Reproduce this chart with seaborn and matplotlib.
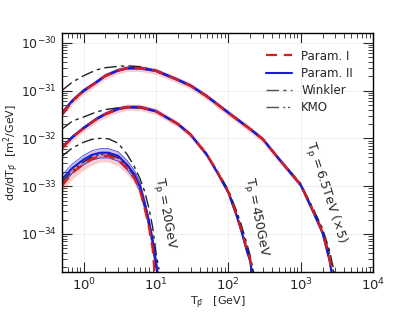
"""
Antiproton production cross section dsigma/dT vs antiproton kinetic energy,
for three proton beam energies, comparing two parametrisations with Winkler and KMO.
"""

import matplotlib
matplotlib.use('Agg')
import matplotlib.pyplot as plt
from matplotlib.lines import Line2D
from matplotlib.ticker import LogLocator, NullFormatter, LogFormatterSciNotation
import numpy as np
import seaborn as sns

# --- data (m^2/GeV) ---

# Tp = 6.5 TeV (x5)
x_65 = [0.5, 0.7, 1, 1.5, 2, 3, 4, 6, 10, 20, 30, 50, 100, 200, 300, 500, 1000, 1500, 2000, 2500, 2800]
p1_65 = [3.24e-32, 6.0e-32, 9.8e-32, 1.48e-31, 2.04e-31, 2.63e-31, 2.95e-31, 2.95e-31, 2.57e-31, 1.66e-31,
         1.26e-31, 7.6e-32, 3.4e-32, 1.55e-32, 9.5e-33, 3.7e-33, 1.07e-33, 2.9e-34, 1.1e-34, 3.0e-35, 1.1e-35]
p2_65 = [3.4e-32, 6.2e-32, 1.0e-31, 1.5e-31, 2.05e-31, 2.65e-31, 2.95e-31, 2.95e-31, 2.6e-31, 1.68e-31,
         1.27e-31, 7.7e-32, 3.45e-32, 1.57e-32, 9.6e-33, 3.7e-33, 1.05e-33, 2.8e-34, 1.05e-34, 2.8e-35, 1.0e-35]
xw_65 = [0.5, 0.7, 1, 1.5, 2, 3, 4, 6, 10, 20, 30, 50, 100, 200, 300, 500, 1000, 1500, 2000, 2500, 3000]
wink_65 = [1.0e-31, 1.5e-31, 2.04e-31, 2.7e-31, 3.0e-31, 3.2e-31, 3.3e-31, 3.15e-31, 2.6e-31, 1.66e-31,
           1.26e-31, 7.6e-32, 3.4e-32, 1.55e-32, 9.5e-33, 3.8e-33, 1.12e-33, 3.3e-34, 1.3e-34, 4.5e-35, 1.26e-35]
kmo_65 = [3.0e-32, 5.8e-32, 9.6e-32, 1.46e-31, 2.0e-31, 2.6e-31, 2.9e-31, 2.9e-31, 2.55e-31, 1.65e-31,
          1.25e-31, 7.5e-32, 3.4e-32, 1.55e-32, 9.5e-33, 3.75e-33, 1.1e-33, 3.1e-34, 1.2e-34, 3.8e-35, 1.1e-35]

# Tp = 450 GeV
x_450 = [0.5, 0.7, 1, 1.5, 2, 3, 4, 6, 10, 20, 30, 50, 70, 100, 130, 150, 180, 200, 215]
p1_450 = [6.2e-33, 1.05e-32, 1.62e-32, 2.5e-32, 3.2e-32, 4.1e-32, 4.5e-32, 4.5e-32, 3.7e-32, 2.0e-32,
          1.2e-32, 4.7e-33, 2.0e-33, 7.6e-34, 2.5e-34, 1.26e-34, 4.8e-35, 3.0e-35, 1.5e-35]
p2_450 = [6.4e-33, 1.07e-32, 1.65e-32, 2.55e-32, 3.25e-32, 4.15e-32, 4.5e-32, 4.5e-32, 3.7e-32, 2.0e-32,
          1.2e-32, 4.6e-33, 1.95e-33, 7.3e-34, 2.4e-34, 1.2e-34, 4.4e-35, 2.7e-35, 1.3e-35]
xw_450 = [0.5, 0.7, 1, 1.5, 2, 3, 4, 6, 10, 20, 30, 50, 70, 100, 130, 150, 180, 200, 230]
wink_450 = [1.55e-32, 2.3e-32, 2.8e-32, 3.55e-32, 4.0e-32, 4.35e-32, 4.5e-32, 4.35e-32, 3.7e-32, 2.0e-32,
            1.2e-32, 4.7e-33, 2.1e-33, 8.3e-34, 3.0e-34, 1.6e-34, 6.3e-35, 3.5e-35, 1.26e-35]
kmo_450 = [6.0e-33, 1.03e-32, 1.6e-32, 2.48e-32, 3.15e-32, 4.05e-32, 4.45e-32, 4.45e-32, 3.7e-32, 2.0e-32,
           1.2e-32, 4.7e-33, 2.0e-33, 7.8e-34, 2.7e-34, 1.4e-34, 5.5e-35, 3.3e-35, 1.1e-35]

# Tp = 20 GeV
x1_20 = [0.5, 0.7, 1, 1.3, 1.7, 2.2, 3, 4, 5, 6, 7, 8, 9, 9.6]
p1_20 = [1.0e-33, 1.9e-33, 2.9e-33, 3.7e-33, 4.3e-33, 4.3e-33, 3.55e-33, 2.35e-33, 1.5e-33, 8.3e-34,
         3.4e-34, 1.38e-34, 4.8e-35, 1.4e-35]
x2_20 = [0.5, 0.7, 1, 1.3, 1.7, 2.2, 3, 4, 5, 6, 7, 8, 9, 10, 10.7]
p2_20 = [1.38e-33, 2.4e-33, 3.6e-33, 4.5e-33, 5.0e-33, 5.0e-33, 4.3e-33, 2.8e-33, 1.78e-33, 1.0e-33,
         4.2e-34, 1.78e-34, 7.1e-35, 2.5e-35, 1.26e-35]
xw_20 = [0.5, 0.7, 1, 1.3, 1.7, 2.2, 3, 4, 5, 6, 7, 8, 9, 10, 11]
wink_20 = [4.2e-33, 6.3e-33, 8.3e-33, 9.5e-33, 1.0e-32, 9.8e-33, 7.9e-33, 4.6e-33, 2.6e-33, 1.45e-33,
           7.6e-34, 3.4e-34, 1.38e-34, 4.1e-35, 1.8e-35]
xk_20 = [0.5, 0.7, 1, 1.3, 1.7, 2.2, 3, 4, 5, 6, 7, 8, 9, 10]
kmo_20 = [1.2e-33, 2.1e-33, 3.2e-33, 4.1e-33, 4.6e-33, 4.6e-33, 3.9e-33, 2.6e-33, 1.65e-33, 9.2e-34,
          3.8e-34, 1.55e-34, 5.8e-35, 1.9e-35]

# fractional uncertainty (band half-width) of Param. I and Param. II
unc1_65, unc2_65 = 0.15, 0.05
unc1_450, unc2_450 = 0.15, 0.05
unc1_20, unc2_20 = 0.25, 0.22

# major ticks
x_ticks = [1, 10, 100, 1000, 10000]
y_ticks = [1e-34, 1e-33, 1e-32, 1e-31, 1e-30]

labels = ['Param. I', 'Param. II', 'Winkler', 'KMO']

RED = '#dd1c1c'
BLUE = '#1a1ad6'
DASH_I = (0, (5, 3))
DASH_W = (0, (9, 3, 2.5, 3))
DASH_K = (0, (9, 3, 1.5, 2, 1.5, 3))

sns.set_style('ticks')
plt.rcParams.update({
    'font.family': ['DejaVu Sans'],
    'mathtext.default': 'regular',
    'xtick.direction': 'in', 'ytick.direction': 'in',
    'xtick.top': True, 'ytick.right': True,
    'xtick.major.size': 7, 'ytick.major.size': 7,
    'xtick.minor.size': 3.5, 'ytick.minor.size': 3.5,
    'xtick.labelsize': 9.5, 'ytick.labelsize': 9,
})

fig = plt.figure(figsize=(4.15, 3.2), dpi=100)
ax = fig.add_axes([0.149, 0.15, 0.75, 0.747])
ax.set_xscale('log')
ax.set_yscale('log')
ax.set_xticks(x_ticks)
ax.set_yticks(y_ticks)
for axis in (ax.xaxis, ax.yaxis):
    axis.set_major_formatter(LogFormatterSciNotation())
    axis.set_minor_locator(LogLocator(base=10, subs=np.arange(2, 10), numticks=100))
    axis.set_minor_formatter(NullFormatter())
ax.set_xlim(0.5, 1e4)
ax.set_ylim(1.6e-35, 1.6e-30)
ax.grid(True, which='major', color='#ececec', lw=0.6)
ax.set_axisbelow(True)

curves = [
    (x_65, p1_65, x_65, p2_65, xw_65, wink_65, xw_65, kmo_65, unc1_65, unc2_65),
    (x_450, p1_450, x_450, p2_450, xw_450, wink_450, xw_450, kmo_450, unc1_450, unc2_450),
    (x1_20, p1_20, x2_20, p2_20, xw_20, wink_20, xk_20, kmo_20, unc1_20, unc2_20),
]

for xa, ya, xb, yb, xw, yw, xk, yk, u1, u2 in curves:
    xa, ya, xb, yb = map(np.asarray, (xa, ya, xb, yb))
    # Param. II band with thin edges
    ax.fill_between(xb, yb * (1 - u2), yb * (1 + u2), color=BLUE, alpha=0.25, lw=0)
    ax.plot(xb, yb * (1 - u2), color=BLUE, lw=0.6, alpha=0.8)
    ax.plot(xb, yb * (1 + u2), color=BLUE, lw=0.6, alpha=0.8)
    # Param. I band
    ax.fill_between(xa, ya * (1 - u1), ya * (1 + u1), color=RED, alpha=0.22, lw=0)
    sns.lineplot(x=xk, y=yk, ax=ax, color='#222222', lw=1.0, linestyle=DASH_K, legend=False)
    sns.lineplot(x=xw, y=yw, ax=ax, color='#222222', lw=1.0, linestyle=DASH_W, legend=False)
    sns.lineplot(x=xb, y=yb, ax=ax, color=BLUE, lw=1.5, legend=False)
    sns.lineplot(x=xa, y=ya, ax=ax, color=RED, lw=1.6, linestyle=DASH_I, legend=False)

ax.set_xlabel(r'T$_{\bar{p}}$   [GeV]', fontsize=8, labelpad=1)
ax.set_ylabel(r'd$\sigma$/dT$_{\bar{p}}$  [m$^2$/GeV]', fontsize=8)
ax.yaxis.set_label_coords(-0.128, 0.5)

W, H = 415.0, 320.0
ax.text(165 / W, 1 - 213 / H, r'$T_p=$20GeV', transform=fig.transFigure, rotation=-80,
        fontsize=9, ha='center', va='center')
ax.text(256 / W, 1 - 217 / H, r'$T_p=$450GeV', transform=fig.transFigure, rotation=-79,
        fontsize=9, ha='center', va='center')
ax.text(325 / W, 1 - 193 / H, r'$T_p=$6.5TeV ($\times$5)', transform=fig.transFigure,
        rotation=-72, fontsize=9, ha='center', va='center')

handles = [
    Line2D([], [], color=RED, lw=1.6, linestyle=DASH_I),
    Line2D([], [], color=BLUE, lw=1.5),
    Line2D([], [], color='#555555', lw=1.0, linestyle=DASH_W),
    Line2D([], [], color='#555555', lw=1.0, linestyle=DASH_K),
]
ax.legend(handles, labels, loc='upper right', frameon=False, fontsize=8.5,
          handlelength=2.2, labelspacing=0.35, bbox_to_anchor=(0.97, 0.975))

for s in ax.spines.values():
    s.set_color('black')
    s.set_linewidth(1.0)

fig.savefig('out.png', dpi=100)
